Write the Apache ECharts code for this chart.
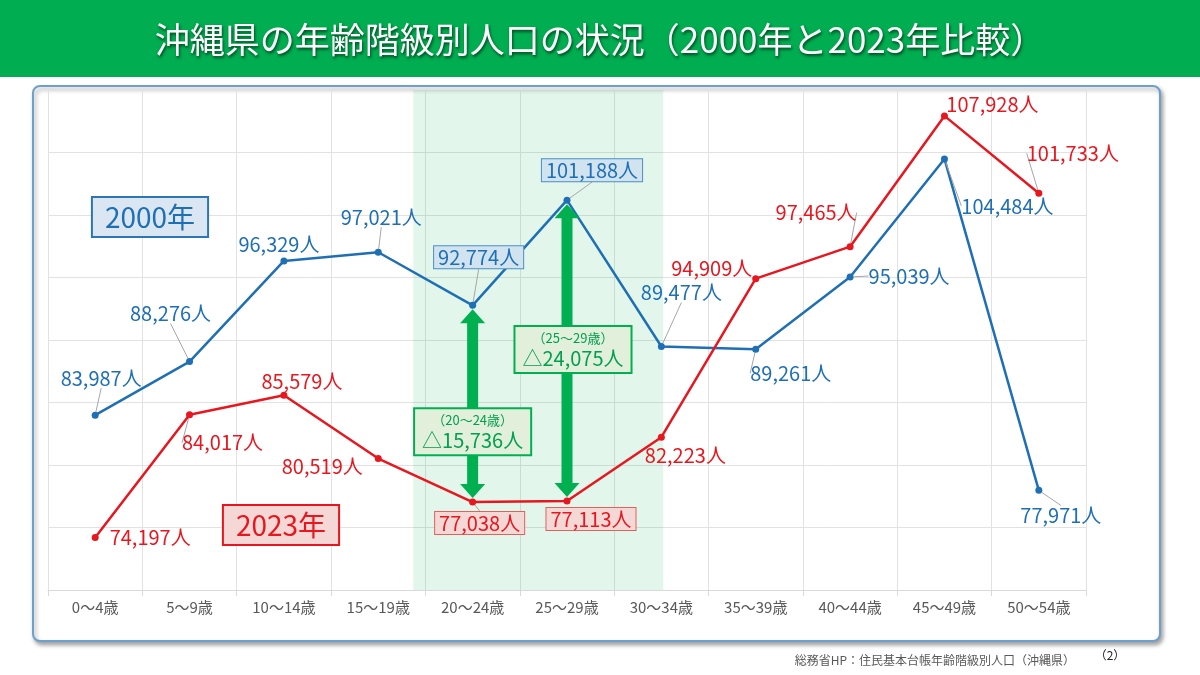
<!DOCTYPE html>
<html>
<head>
<meta charset="utf-8">
<script src="https://cdn.jsdelivr.net/npm/echarts@6/dist/echarts.min.js"></script>
<style>
html, body { margin: 0; padding: 0; background: #fff; }
#main { width: 1200px; height: 675px; }
</style>
</head>
<body>
<div id="main"></div>
<script>
/**
 * 沖縄県の年齢階級別人口 2000年と2023年
 */
var ageGroups = ['0～4歳', '5～9歳', '10～14歳', '15～19歳', '20～24歳', '25～29歳',
    '30～34歳', '35～39歳', '40～44歳', '45～49歳', '50～54歳'];
var pop2000 = [83987, 88276, 96329, 97021, 92774, 101188, 89477, 89261, 95039, 104484, 77971];
var pop2023 = [74197, 84017, 85579, 80519, 77038, 77113, 82223, 94909, 97465, 107928, 101733];
// 差を矢印で示す年齢階級
var arrowGroups = [4, 5];

// ラベルの位置（点からのずれ）
var off2000 = [[6, -37], [-19, -48], [-5, -16], [3, -35], [6, -48], [25, -30],
    [20, -54], [35, 24], [59, -1], [63, 47], [22, 25]];
var off2023 = [[55, 0], [33, 28], [18, -14], [-56, 8], [7, 21], [24, 18],
    [24, 18], [-44, -10], [-34, -34], [48, -11], [34, -40]];
var lead2000 = [1, 1, 0, 1, 1, 1, 1, 1, 1, 1, 1];
var lead2023 = [0, 1, 0, 0, 1, 0, 0, 0, 1, 0, 1];
var boxOff = [[0, 28], [6, -1]];
// 網掛けの範囲（カテゴリ位置）
var bandFrom = 3.37, bandTo = 6.02;

var BLUE = '#1f6fb5';
var RED = '#e8161e';
var GREEN = '#00b050';
var FONT = '"Noto Sans CJK JP", "Noto Sans", sans-serif';

function fmt(v) {
    return String(v).replace(/\B(?=(\d{3})+(?!\d))/g, ',');
}

function makeData(vals, leads, boxBg, boxBorder) {
    return vals.map(function (v, i) {
        var item = { value: v, labelLine: { show: !!leads[i] } };
        if (arrowGroups.indexOf(i) >= 0) {
            item.label = {
                backgroundColor: boxBg,
                borderColor: boxBorder,
                borderWidth: 1,
                padding: [2, 4, 0, 4]
            };
        }
        return item;
    });
}

function getChart() {
    var myChart = echarts.init(document.getElementById('main'));
    window.onresize = myChart.resize;

    var option = {
        animation: false,
        backgroundColor: '#fff',
        textStyle: { fontFamily: FONT },
        title: {
            text: '沖縄県の年齢階級別人口の状況（2000年と2023年比較）',
            left: 'center',
            top: 17,
            textStyle: {
                color: '#fff',
                fontSize: 35,
                fontWeight: 'normal',
                fontFamily: FONT,
                textShadowColor: 'rgba(0,0,0,0.6)',
                textShadowBlur: 3,
                textShadowOffsetX: 1,
                textShadowOffsetY: 2
            }
        },
        graphic: [
            {
                type: 'rect', z: -10,
                shape: { x: 0, y: 0, width: 1200, height: 77 },
                style: { fill: '#00ad50' }
            },
            {
                type: 'rect', z: -10,
                shape: { x: 33, y: 86, width: 1127, height: 555, r: 7 },
                style: {
                    fill: '#fff', stroke: '#6f9fcb', lineWidth: 2,
                    shadowBlur: 4, shadowColor: 'rgba(0,0,0,0.35)',
                    shadowOffsetX: 2, shadowOffsetY: 3
                }
            },
            {
                type: 'text', x: 150, y: 217, z: 10,
                style: {
                    text: '2000年', fill: BLUE, font: '28px ' + FONT,
                    align: 'center', verticalAlign: 'middle',
                    backgroundColor: '#dae6f2', borderColor: '#2e75b6', borderWidth: 2,
                    padding: [6, 12, 4, 12]
                }
            },
            {
                type: 'text', x: 281, y: 525, z: 10,
                style: {
                    text: '2023年', fill: RED, font: '28px ' + FONT,
                    align: 'center', verticalAlign: 'middle',
                    backgroundColor: '#f5d7d5', borderColor: '#e8161e', borderWidth: 2,
                    padding: [6, 12, 4, 12]
                }
            },
            {
                type: 'text', x: 1075, y: 660,
                style: {
                    text: '総務省HP：住民基本台帳年齢階級別人口（沖縄県）', fill: '#595959',
                    font: '12px ' + FONT, align: 'right', verticalAlign: 'middle'
                }
            },
            {
                type: 'text', x: 1110, y: 655,
                style: {
                    text: '（2）', fill: '#222', font: '12px ' + FONT,
                    align: 'center', verticalAlign: 'middle'
                }
            }
        ],
        grid: { left: 48, right: 114, top: 90, bottom: 85 },
        xAxis: {
            type: 'category',
            data: ageGroups,
            boundaryGap: true,
            axisLine: { lineStyle: { color: '#d9d9d9' } },
            axisTick: { show: true, length: 6, lineStyle: { color: '#d9d9d9' } },
            axisLabel: { color: '#595959', fontSize: 15, margin: 10, fontFamily: FONT },
            splitLine: { show: true, lineStyle: { color: '#e2e2e2' } }
        },
        yAxis: {
            type: 'value',
            min: 70000,
            max: 110000,
            interval: 5000,
            axisLabel: { show: false },
            axisLine: { show: false },
            axisTick: { show: false },
            splitLine: { lineStyle: { color: '#e2e2e2' } }
        },
        series: [
            {
                // 20代の網掛け
                type: 'custom',
                z: 1,
                silent: true,
                data: [[0, 70000]],
                renderItem: function (params, api) {
                    var cs = params.coordSys;
                    var bw = api.size([1, 0])[0];
                    function px(f) {
                        var k = Math.floor(f);
                        return api.coord([k, 70000])[0] + (f - k) * bw;
                    }
                    var x1 = px(bandFrom), x2 = px(bandTo);
                    return {
                        type: 'rect',
                        shape: { x: x1, y: cs.y, width: x2 - x1, height: cs.height },
                        style: { fill: 'rgba(0,176,80,0.11)' }
                    };
                }
            },
            {
                name: '2000年',
                type: 'line',
                data: makeData(pop2000, lead2000, '#d2e3f0', '#4a8fc6'),
                color: BLUE,
                symbol: 'circle',
                symbolSize: 7,
                lineStyle: { width: 2.5, color: BLUE },
                z: 3,
                label: {
                    show: true, position: 'inside', color: BLUE, fontSize: 20, fontFamily: FONT,
                    formatter: function (p) { return fmt(p.value) + '人'; }
                },
                labelLine: { lineStyle: { color: '#a6a6a6', width: 1 } },
                labelLayout: function (p) {
                    var o = off2000[p.dataIndex];
                    return { dx: o[0], dy: o[1] };
                }
            },
            {
                name: '2023年',
                type: 'line',
                data: makeData(pop2023, lead2023, '#f4d8d5', '#e0625c'),
                color: RED,
                symbol: 'circle',
                symbolSize: 7,
                lineStyle: { width: 2.5, color: RED },
                z: 3,
                label: {
                    show: true, position: 'inside', color: RED, fontSize: 20, fontFamily: FONT,
                    formatter: function (p) { return fmt(p.value) + '人'; }
                },
                labelLine: { lineStyle: { color: '#a6a6a6', width: 1 } },
                labelLayout: function (p) {
                    var o = off2023[p.dataIndex];
                    return { dx: o[0], dy: o[1] };
                }
            },
            {
                // 差を示す矢印
                type: 'custom',
                z: 4,
                silent: true,
                encode: { x: 0, y: [1, 2] },
                data: arrowGroups.map(function (i) { return [i, pop2000[i], pop2023[i]]; }),
                renderItem: function (params, api) {
                    var i = api.value(0);
                    var top = api.coord([i, api.value(1)]);
                    var bot = api.coord([i, api.value(2)]);
                    var x = top[0], y1 = top[1] + 4, y2 = bot[1] - 4;
                    var hw = 12.5, hh = 14, sw = 5.5;
                    var pts = [[x, y1], [x + hw, y1 + hh], [x + sw, y1 + hh], [x + sw, y2 - hh],
                        [x + hw, y2 - hh], [x, y2], [x - hw, y2 - hh], [x - sw, y2 - hh],
                        [x - sw, y1 + hh], [x - hw, y1 + hh]];
                    var diff = api.value(1) - api.value(2);
                    var o = boxOff[params.dataIndex];
                    return {
                        type: 'group',
                        children: [
                            { type: 'polygon', shape: { points: pts }, style: { fill: GREEN } },
                            {
                                type: 'text',
                                x: x + o[0],
                                y: (y1 + y2) / 2 + o[1],
                                style: {
                                    text: '{a|（' + ageGroups[i] + '）}\n{b|△' + fmt(diff) + '人}',
                                    rich: {
                                        a: { fontSize: 13, fill: '#00a050', fontFamily: FONT, lineHeight: 18, align: 'center' },
                                        b: { fontSize: 20, fill: '#00a050', fontFamily: FONT, lineHeight: 23, align: 'center' }
                                    },
                                    align: 'center',
                                    verticalAlign: 'middle',
                                    backgroundColor: '#e2efda',
                                    borderColor: GREEN,
                                    borderWidth: 2,
                                    padding: [2, 7, 2, 7]
                                }
                            }
                        ]
                    };
                }
            }
        ]
    };

    myChart.setOption(option, true);
}

getChart();
</script>
</body>
</html>
